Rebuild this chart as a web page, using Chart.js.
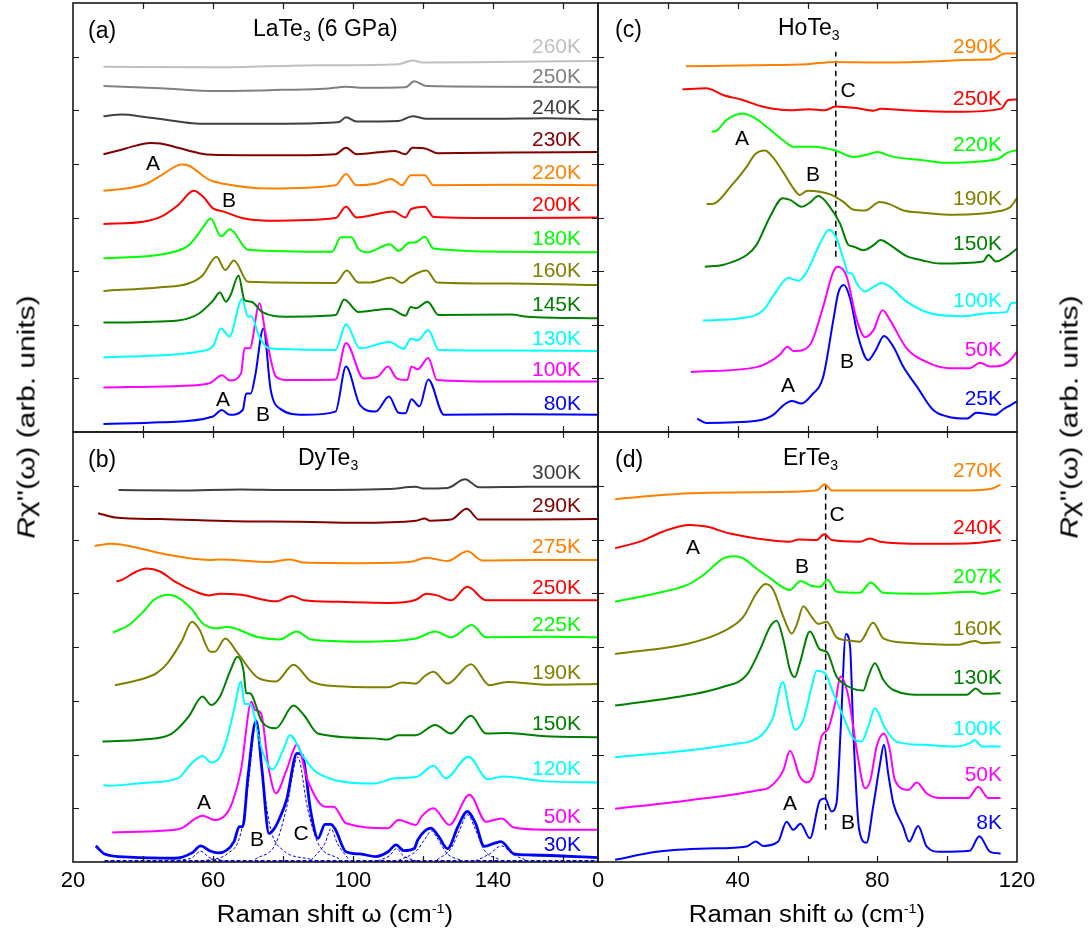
<!DOCTYPE html>
<html>
<head>
<meta charset="utf-8">
<script src="https://cdn.jsdelivr.net/npm/chart.js@4.4.1/dist/chart.umd.min.js"></script>
<style>
  body { margin: 0; background: #fff; }
  #wrap { position: relative; width: 1088px; height: 940px; font-family: "Liberation Sans", Arial, sans-serif; color: #000; overflow: hidden; }
  #wrap canvas { position: absolute; left: 0; top: 0; }
  .t { position: absolute; white-space: nowrap; line-height: 1; }
  .lbl { font-size: 21px; transform: translateY(-50%); }
  .ann { font-size: 21px; transform: translate(-50%, -50%); }
  .ttl { font-size: 23px; transform: translateY(-50%); }
  .ttl sub { font-size: 14px; vertical-align: -5px; }
  .axt { font-size: 23px; transform: translate(-50%, -50%) scaleX(1.12); }
  .axt sup { font-size: 13px; vertical-align: 9px; }
  .yt { font-size: 23px; transform: translate(-50%, -50%) rotate(-90deg) scaleX(1.3); }
</style>
</head>
<body>
<div id="wrap">
  <canvas id="pa" width="1088" height="940"></canvas>
  <canvas id="pb" width="1088" height="940"></canvas>
  <canvas id="pc" width="1088" height="940"></canvas>
  <canvas id="pd" width="1088" height="940"></canvas>
</div>
<script>
// ---------- tick values ----------
const xTicksLeft   = [40, 60, 80, 100, 120, 140, 160];
const xLabelsLeft  = [20, 60, 100, 140];
const xTicksRight  = [20, 40, 60, 80, 100];
const xLabelsRight = [0, 40, 80, 120];
const yTicks       = [1, 2, 3, 4, 5, 6, 7];

// ---------- (a) LaTe3 (6 GPa) ----------
const tempsA = ["260K", "250K", "240K", "230K", "220K", "200K", "180K", "160K", "145K", "130K", "100K", "80K"];
const la260 = [[28.7,6.81],[60,6.80],[90,6.84],[113,6.86],[117,6.93],[120,6.89],[140,6.90],[170,6.92]];
const la250 = [[28.7,6.45],[45,6.41],[61,6.36],[80,6.38],[92,6.40],[98,6.44],[103,6.42],[115,6.43],[117.5,6.54],[121,6.45],[140,6.44],[170,6.43]];
const la240 = [[28.7,5.89],[34,5.92],[40,5.88],[50,5.79],[56,5.75],[80,5.75],[96,5.78],[98,5.87],[101,5.79],[113,5.80],[117,5.89],[121,5.84],[140,5.84],[155,5.85],[170,5.83]];
const la230 = [[28.7,5.18],[33,5.25],[38,5.34],[42,5.39],[45,5.38],[50,5.30],[56,5.20],[60,5.17],[80,5.16],[95,5.18],[98,5.30],[101,5.18],[112,5.24],[115,5.18],[117,5.30],[121,5.28],[124,5.20],[145,5.21],[170,5.22]];
const la220 = [[28.7,4.50],[36,4.55],[41,4.63],[46,4.82],[51,4.99],[53,4.97],[59,4.70],[63,4.63],[76,4.54],[95,4.60],[98,4.81],[101,4.60],[107,4.64],[111,4.72],[114,4.60],[116.5,4.79],[120.5,4.79],[123,4.60],[145,4.61],[170,4.60]];
const la200 = [[28.7,3.88],[40,3.92],[45,4.01],[50,4.23],[54.5,4.50],[57,4.40],[60,4.17],[63,4.11],[69,3.98],[76,3.94],[95,3.99],[98,4.20],[101,4.00],[111.5,4.11],[115,4.00],[116.5,4.15],[120.5,4.20],[123,4.01],[145,3.99],[170,4.00]];
const la180 = [[28.7,3.24],[46,3.32],[53,3.48],[57,3.80],[59.3,3.98],[62.3,3.65],[64.8,3.78],[70,3.40],[94,3.36],[96.5,3.63],[99.5,3.63],[101.5,3.42],[104,3.35],[110.5,3.50],[113,3.38],[116,3.53],[118,3.54],[120.5,3.64],[123,3.42],[145,3.36],[170,3.35]];
const la160 = [[28.7,2.63],[45,2.70],[53,2.77],[57,2.92],[61,3.27],[63.5,3.02],[66,3.20],[70,2.80],[95,2.78],[98.2,3.01],[101.5,2.79],[105,2.79],[111,2.88],[114,2.78],[116.5,2.90],[121,3.01],[124,2.79],[145,2.77],[170,2.74]];
const la145 = [[28.7,2.04],[50,2.08],[56,2.21],[60,2.45],[62,2.60],[63.7,2.43],[65,2.55],[67.3,2.92],[69,2.46],[71,2.43],[74,2.24],[81,2.15],[95,2.18],[97.5,2.47],[101.5,2.24],[110.5,2.30],[115,2.17],[116.5,2.33],[118,2.31],[121.3,2.43],[124.5,2.18],[145,2.19],[150,2.15],[170,2.12]];
const la130 = [[28.7,1.39],[50,1.45],[56,1.50],[60,1.60],[62.3,1.93],[64.7,1.78],[68.3,2.48],[70,2.15],[71,2.16],[73,1.81],[76,1.56],[95,1.53],[98,2.01],[102,1.56],[110.5,1.68],[114.5,1.55],[116.5,1.74],[118.5,1.71],[121.5,1.90],[124.5,1.53],[145,1.52],[170,1.51]];
const la100 = [[28.7,0.83],[50,0.86],[59,0.91],[62.6,1.06],[64.8,0.96],[68,1.09],[69,1.56],[70.5,1.56],[73.3,2.40],[75,1.84],[78,1.03],[81,0.97],[95,0.98],[98,1.66],[103,1.00],[107,1.03],[110,1.22],[112.5,1.00],[115.5,0.97],[116.7,1.22],[118.5,1.17],[121.5,1.38],[124,0.97],[145,0.94],[170,0.94]];
const la80  = [[28.7,0.15],[45,0.18],[60,0.29],[62.5,0.41],[64.8,0.32],[68.5,0.41],[69.5,0.72],[70.8,0.72],[72,1.03],[74.4,1.93],[76.5,0.78],[79,0.44],[86,0.32],[95,0.38],[98,1.22],[102,0.50],[106.5,0.38],[110.3,0.66],[113,0.36],[115,0.35],[116.7,0.61],[119,0.48],[121.5,0.98],[126,0.32],[145,0.33],[170,0.32]];
const seriesA = [la260, la250, la240, la230, la220, la200, la180, la160, la145, la130, la100, la80];

// ---------- (b) DyTe3 ----------
const tempsB = ["300K", "290K", "275K", "250K", "225K", "190K", "150K", "120K", "50K", "30K"];
const dy300 = [[33,6.92],[50,6.91],[68,6.93],[80,6.92],[110,6.94],[118,6.98],[120,6.95],[127,6.96],[132,7.12],[136,6.97],[150,6.98],[170,6.98]];
const dy290 = [[27.2,6.49],[32,6.41],[45,6.38],[66,6.34],[85,6.33],[101,6.31],[118,6.35],[120.5,6.39],[122,6.35],[128,6.37],[132.5,6.57],[136,6.37],[150,6.37],[170,6.38]];
const dy275 = [[26.2,5.88],[31,5.92],[36,5.88],[46,5.73],[59,5.62],[62,5.63],[76,5.58],[82,5.63],[86,5.57],[101,5.56],[116,5.58],[121,5.66],[127,5.60],[132.7,5.78],[137,5.61],[150,5.62],[170,5.62]];
const dy250 = [[32.4,5.22],[34,5.25],[38,5.40],[41,5.46],[45,5.40],[49,5.22],[55,5.03],[59,4.96],[62,4.99],[68,4.97],[78,4.85],[82.5,4.95],[86,4.87],[96,4.84],[110,4.82],[118,4.88],[121,4.99],[124,4.96],[128,4.87],[132.7,5.12],[138,4.87],[155,4.87],[170,4.87]];
const dy225 = [[31.4,4.27],[36,4.41],[40,4.65],[43,4.87],[47.5,4.97],[50,4.92],[54,4.70],[57,4.44],[60.5,4.35],[64,4.37],[73,4.18],[79,4.14],[84,4.29],[88,4.14],[102,4.10],[118,4.16],[123.5,4.29],[128,4.18],[134,4.41],[138,4.18],[155,4.19],[170,4.18]];
const dy190 = [[32,3.29],[39,3.39],[44,3.52],[47,3.70],[51,4.10],[54,4.47],[56,4.34],[59.3,3.91],[60.5,3.91],[63.5,4.16],[67,3.89],[73,3.42],[78,3.36],[83,3.67],[88,3.36],[96,3.27],[110,3.25],[114,3.34],[118,3.32],[120.5,3.46],[123,3.54],[127,3.32],[133.7,3.68],[139,3.29],[144,3.35],[155,3.30],[170,3.31]];
const dy150 = [[28.4,2.24],[40,2.28],[48,2.38],[53,2.70],[57,3.08],[59.5,2.92],[62,3.08],[65,3.57],[67,3.82],[68.7,3.57],[69.5,3.14],[70.5,3.14],[74,2.61],[78,2.49],[83,2.91],[86,2.73],[90,2.39],[106,2.30],[110,2.28],[113,2.36],[118,2.36],[123.5,2.55],[128,2.39],[133.7,2.72],[138,2.39],[144,2.40],[155,2.34],[170,2.32]];
const dy120 = [[28.7,1.43],[30,1.42],[40,1.47],[50,1.56],[54,1.84],[57,1.97],[59.5,1.85],[62,1.96],[64,2.30],[66,2.83],[68,3.36],[69,2.94],[70.5,2.94],[74,2.08],[77,1.72],[80,2.08],[82,2.36],[86,1.94],[90,1.65],[106,1.46],[112,1.56],[118,1.58],[123,1.79],[126.5,1.56],[133,1.96],[138.5,1.54],[143,1.59],[155,1.50],[170,1.48]];
const dy50  = [[31.2,0.55],[45,0.58],[51,0.63],[55,0.81],[57,0.86],[60.5,0.78],[64,0.91],[66,1.20],[68,1.71],[71,2.98],[72,2.83],[73.7,2.77],[76,1.71],[78,1.28],[81,1.71],[84,2.18],[87,1.53],[92,1.03],[94.5,1.03],[98,0.72],[110,0.63],[113,0.78],[118,0.69],[119.5,0.84],[123,1.00],[127.5,0.69],[133.3,1.25],[138,0.75],[142.5,0.81],[146,0.64],[155,0.60],[170,0.60]];
const dy30  = [[26.5,0.30],[29,0.15],[36,0.09],[49,0.07],[54,0.17],[56.5,0.30],[59,0.21],[61.5,0.17],[66,0.38],[67.5,0.66],[68.5,0.66],[70,1.59],[72.3,2.63],[74,1.71],[76,0.53],[77.5,0.62],[79,0.81],[81,1.15],[84,2.02],[85.5,1.99],[88,0.91],[90,0.44],[92,0.70],[93.7,0.70],[95,0.60],[98,0.19],[102,0.15],[106.5,0.10],[110,0.19],[112.3,0.32],[114.5,0.21],[117.5,0.25],[118.5,0.41],[122.3,0.63],[124.5,0.47],[127,0.25],[130,0.66],[132.6,0.94],[135,0.72],[137.5,0.29],[140.5,0.35],[142.3,0.38],[146,0.15],[151,0.13],[170,0.08]];
const seriesB = [dy300, dy290, dy275, dy250, dy225, dy190, dy150, dy120, dy50, dy30];
// 30K fit components (dashed) and fit baseline
const fitA   = [[50,0.03],[54,0.08],[56.5,0.20],[59,0.08],[63,0.03]];
const fitB   = [[58,0.03],[64,0.15],[68,0.55],[70,1.4],[72.3,2.6],[74.5,1.4],[76.5,0.6],[80,0.22],[88,0.05]];
const fitC   = [[72,0.05],[78,0.35],[81,1.0],[84.2,1.95],[87,1.0],[90,0.35],[96,0.06]];
const fit94  = [[88,0.03],[92,0.35],[93.7,0.62],[95.5,0.35],[99,0.03]];
const fit112 = [[107,0.02],[110.5,0.12],[112.4,0.25],[114.3,0.12],[118,0.02]];
const fit122 = [[113,0.03],[118,0.2],[120.5,0.42],[122.4,0.58],[124.3,0.42],[127,0.15],[131,0.03]];
const fit133 = [[124,0.04],[128,0.25],[130.5,0.6],[132.7,0.88],[135,0.6],[137.5,0.22],[142,0.04]];
const fit142 = [[135,0.02],[139,0.15],[142.4,0.30],[145.5,0.15],[150,0.02]];
const fitBase = [[29,0.02],[170,0.02]];
const fitsB = [fitA, fitB, fitC, fit94, fit112, fit122, fit133, fit142];

// ---------- (c) HoTe3 ----------
const tempsC = ["290K", "250K", "220K", "190K", "150K", "100K", "50K", "25K"];
const ho290 = [[25.2,6.82],[45,6.84],[60,6.86],[68,6.90],[80,6.89],[95,6.91],[108,6.94],[113,6.95],[116.5,7.06],[120,7.06]];
const ho250 = [[24.2,6.39],[31,6.41],[36,6.28],[41,6.20],[47,6.07],[55,6.00],[60.5,6.02],[65,6.00],[68,6.07],[74,6.04],[79,5.99],[81,6.03],[88,6.00],[103,5.97],[115.5,6.03],[117.5,6.19],[120,6.20]];
const ho220 = [[32.6,5.60],[34,5.62],[36.8,5.82],[41.5,5.94],[44.5,5.87],[48.3,5.69],[53,5.44],[56,5.32],[61.7,5.32],[68,5.25],[73,5.13],[77,5.17],[80,5.22],[84,5.14],[93,5.07],[100,5.02],[114.5,5.09],[117,5.20],[120,5.26]];
const ho190 = [[31.1,4.25],[32.5,4.25],[38.8,4.64],[42.6,4.95],[45,5.18],[47.8,5.25],[50,5.13],[53,4.85],[56,4.54],[57.8,4.42],[60,4.50],[63.5,4.48],[66.5,4.43],[70.3,4.29],[73,4.15],[76.5,4.13],[80.7,4.29],[83.5,4.25],[87.5,4.13],[93,4.09],[102,4.05],[115,4.12],[118,4.19],[120,4.36]];
const ho150 = [[30.6,3.08],[36,3.12],[42.6,3.30],[45.4,3.49],[49.3,4.02],[52.9,4.36],[55,4.33],[58.3,4.20],[60.7,4.28],[63.1,4.40],[66.4,4.20],[69.3,3.89],[71.7,3.49],[73.1,3.46],[76,3.39],[79,3.49],[80.9,3.58],[83.6,3.49],[88.4,3.28],[93,3.20],[98,3.14],[110.3,3.18],[111.8,3.30],[114,3.18],[117,3.27],[120,3.42]];
const ho100 = [[30,2.08],[40.7,2.12],[47.3,2.27],[50.7,2.59],[54.5,2.87],[57.4,2.82],[59.8,2.99],[63.6,3.52],[66.2,3.77],[68.3,3.61],[70.7,3.14],[71.6,2.96],[72.6,2.96],[74.1,2.77],[76.5,2.62],[79,2.71],[81.2,2.78],[83.6,2.71],[88.4,2.43],[96,2.20],[104.6,2.16],[112.3,2.22],[117,2.24],[118.5,2.41],[120,2.41]];
const ho50  = [[26.6,1.12],[45.4,1.21],[48.3,1.28],[52.1,1.44],[54.2,1.59],[56,1.51],[58.8,1.53],[61.2,1.68],[64.5,2.34],[67.4,2.99],[68.8,3.08],[71.2,2.90],[74.1,2.09],[76.5,1.77],[78.9,1.90],[81.5,2.27],[83.6,2.09],[88.4,1.56],[95,1.28],[100.8,1.19],[106.5,1.19],[109.4,1.29],[112.3,1.22],[116,1.25],[118.5,1.37],[120,1.50]];
const ho25  = [[28.4,0.25],[31,0.17],[45.4,0.21],[50.2,0.32],[53.1,0.50],[55.5,0.58],[58.3,0.53],[61.2,0.69],[64.5,1.03],[67.4,2.09],[68.8,2.59],[70.4,2.74],[72.2,2.49],[74.5,1.78],[77.4,1.34],[79.5,1.52],[81.9,1.79],[84.6,1.59],[87.4,1.22],[91.3,0.85],[96,0.41],[100,0.29],[105.6,0.25],[108.4,0.36],[113.7,0.32],[116,0.42],[120,0.57]];
const seriesC = [ho290, ho250, ho220, ho190, ho150, ho100, ho50, ho25];
const markC = [[68.1,3.27],[68.1,7.09]];

// ---------- (d) ErTe3 ----------
const tempsD = ["270K", "240K", "207K", "160K", "130K", "100K", "50K", "8K"];
const er270 = [[4.9,6.75],[15,6.81],[26.3,6.86],[45,6.88],[62.6,6.91],[65,7.03],[67,6.91],[84,6.91],[103,6.91],[112.3,6.94],[115.3,7.02]];
const er240 = [[4.9,5.84],[12,5.96],[18.7,6.15],[26.3,6.27],[31,6.24],[37.8,6.11],[45.4,6.02],[55,5.96],[57.4,6.00],[62.6,5.99],[64.8,6.10],[67,5.99],[75,5.96],[77.9,6.02],[80.8,5.96],[93.2,5.92],[107,5.93],[115.3,5.99]];
const er207 = [[4.9,4.84],[16.8,5.00],[25.4,5.15],[30.2,5.34],[35.9,5.65],[38.8,5.69],[41.6,5.65],[45.4,5.46],[49.3,5.28],[55,5.06],[58,5.23],[61,5.14],[63.6,5.12],[65.7,5.25],[68.3,5.03],[75,5.01],[78.1,5.20],[81.7,5.01],[93.2,4.99],[107.5,5.03],[110,4.99],[115.3,5.06]];
const er160 = [[4.9,3.87],[26.3,4.07],[35.9,4.29],[41.6,4.56],[45.4,5.00],[48,5.17],[50.2,5.06],[53.1,4.56],[55.5,4.25],[57,4.43],[58.8,4.76],[61.2,4.56],[63.1,4.43],[65.5,4.47],[68.3,4.18],[72.2,4.12],[75,4.10],[78.8,4.45],[81.7,4.16],[88.4,4.08],[102.7,4.04],[108,4.11],[110,4.07],[115.3,4.09]];
const er130 = [[4.9,2.91],[26.3,3.11],[35.9,3.26],[42.6,3.48],[46.4,3.95],[49.3,4.38],[51.2,4.49],[53.1,4.13],[55,3.57],[56.4,3.44],[57.8,3.70],[60.7,4.29],[63.6,3.95],[65.5,3.91],[68.3,3.45],[70.2,3.32],[76,3.19],[77.4,3.45],[79.3,3.70],[81.7,3.39],[84.6,3.20],[93.2,3.11],[105.6,3.11],[108.2,3.23],[110.3,3.13],[115.3,3.14]];
const er100 = [[4.9,1.95],[26.3,2.08],[40.7,2.21],[43.5,2.24],[47.3,2.39],[50.2,2.70],[52.9,3.35],[55,2.76],[56.4,2.46],[58.8,2.65],[61.2,3.26],[62.6,3.56],[65,3.51],[67.4,3.14],[70.3,2.70],[73.1,2.30],[75.5,2.24],[77.4,2.52],[79.3,2.86],[82.2,2.49],[85.5,2.24],[93.2,2.18],[102.7,2.15],[106.5,2.21],[107.8,2.27],[110,2.15],[115.3,2.15]];
const er50  = [[4.9,0.99],[26.3,1.15],[45.4,1.33],[49.3,1.40],[53.1,1.71],[55,2.07],[57.8,1.59],[59.8,1.48],[61.7,1.62],[64,2.33],[66,2.49],[67.9,2.95],[69.5,3.45],[71.7,3.08],[74.1,2.08],[76.5,1.37],[78,1.52],[79.8,2.15],[81.9,2.39],[83.6,2.08],[85,1.53],[88.9,1.34],[91.3,1.48],[94.1,1.28],[97.9,1.19],[106,1.19],[108.9,1.40],[111.8,1.19],[115.3,1.19]];
const er8   = [[4.9,0.04],[16.8,0.19],[31.1,0.25],[42.6,0.29],[45.2,0.38],[47.3,0.30],[51.6,0.38],[54,0.75],[55.9,0.60],[58,0.71],[60.7,0.44],[63.6,1.15],[65,1.18],[66.9,0.94],[68.3,1.09],[69.5,2.46],[71,4.24],[72.2,4.00],[73.1,2.46],[74.8,0.60],[76.9,0.36],[78.8,1.03],[80.8,1.84],[81.9,2.18],[83.1,1.65],[84.6,1.09],[87.4,0.66],[89.1,0.38],[91.7,0.67],[94.1,0.29],[97.9,0.19],[106.5,0.21],[109.2,0.48],[112.3,0.19],[115.3,0.16]];
const seriesD = [er270, er240, er207, er160, er130, er100, er50, er8];
const markD = [[65.2,0.60],[65.2,7.01]];

// ---------- styles ----------
const colorsA = ["#c0c0c0", "#808080", "#404040", "#800000", "#ff8000", "#ff0000", "#00ff00", "#808000", "#008000", "#00ffff", "#ff00ff", "#0000ff"];
const colorsB = ["#404040", "#800000", "#ff8000", "#ff0000", "#00ff00", "#808000", "#008000", "#00ffff", "#ff00ff", "#0000ff"];
const colorsC = ["#ff8000", "#ff0000", "#00ff00", "#808000", "#008000", "#00ffff", "#ff00ff", "#0000ff"];
const colorsD = ["#ff8000", "#ff0000", "#00ff00", "#808000", "#008000", "#00ffff", "#ff00ff", "#0000ff"];

const FONT = '"Liberation Sans", Arial, sans-serif';

// frame, inward ticks and bottom tick labels
const framePlugin = {
  id: "frame",
  afterDraw(chart, args, opts) {
    const { ctx, chartArea: a, scales: { x, y } } = chart;
    const len = 6;
    ctx.save();
    ctx.strokeStyle = "#1a1a1a";
    ctx.lineWidth = 1.2;
    ctx.beginPath();
    opts.xTicks.forEach((v) => {
      const px = Math.round(x.getPixelForValue(v)) + 0.5;
      ctx.moveTo(px, a.top); ctx.lineTo(px, a.top + len);
      ctx.moveTo(px, a.bottom); ctx.lineTo(px, a.bottom - len);
    });
    yTicks.forEach((v) => {
      const py = Math.round(y.getPixelForValue(v)) + 0.5;
      ctx.moveTo(a.left, py); ctx.lineTo(a.left + len, py);
      ctx.moveTo(a.right, py); ctx.lineTo(a.right - len, py);
    });
    ctx.stroke();
    ctx.lineWidth = 1.6;
    ctx.strokeRect(a.left, a.top, a.right - a.left, a.bottom - a.top);
    if (opts.xLabels) {
      ctx.fillStyle = "#000";
      ctx.font = `22px ${FONT}`;
      ctx.textAlign = "center";
      ctx.textBaseline = "middle";
      opts.xLabels.forEach((v) => ctx.fillText(String(v), x.getPixelForValue(v), a.bottom + 19));
    }
    ctx.restore();
  },
};

function curveSets(series, colors, widths) {
  return series.map((d, i) => ({
    data: d,
    borderColor: colors[i],
    borderWidth: widths ? widths[i] : 2,
    pointRadius: 0,
    fill: false,
    cubicInterpolationMode: "monotone",
  }));
}

function dashedSets(list, color, width, dash) {
  return list.map((d) => ({
    data: d,
    borderColor: color,
    borderWidth: width,
    borderDash: dash,
    pointRadius: 0,
    fill: false,
    cubicInterpolationMode: "monotone",
  }));
}

function makePanel(id, padding, xMin, xMax, datasets, frameOpts) {
  return new Chart(document.getElementById(id), {
    type: "line",
    data: { datasets },
    options: {
      responsive: false,
      animation: false,
      events: [],
      layout: { padding },
      plugins: { legend: { display: false }, tooltip: { enabled: false }, frame: frameOpts },
      scales: {
        x: { type: "linear", min: xMin, max: xMax, display: false },
        y: { type: "linear", min: 0, max: 8, display: false },
      },
    },
    plugins: [framePlugin],
  });
}

const widthsB = colorsB.map((c, i) => (i === colorsB.length - 1 ? 2.8 : 2));

makePanel("pa", { left: 73, top: 3, right: 490, bottom: 508 }, 20, 170,
  curveSets(seriesA, colorsA), { xTicks: xTicksLeft });

makePanel("pb", { left: 73, top: 432, right: 490, bottom: 78 }, 20, 170,
  [...dashedSets(fitsB, "#0000ff", 1, [3, 2]),
   ...dashedSets([fitBase], "#0000ff", 2, [4, 2]),
   ...curveSets(seriesB, colorsB, widthsB)],
  { xTicks: xTicksLeft, xLabels: xLabelsLeft });

makePanel("pc", { left: 598, top: 3, right: 71, bottom: 508 }, 0, 120,
  [...curveSets(seriesC, colorsC), ...dashedSets([markC], "#000", 1.5, [6, 4])],
  { xTicks: xTicksRight });

makePanel("pd", { left: 598, top: 432, right: 71, bottom: 78 }, 0, 120,
  [...curveSets(seriesD, colorsD), ...dashedSets([markD], "#000", 1.5, [6, 4])],
  { xTicks: xTicksRight, xLabels: xLabelsRight });

// ---------- text ----------
const wrap = document.getElementById("wrap");
function addText(cls, html, style) {
  const el = document.createElement("div");
  el.className = "t " + cls;
  el.innerHTML = html;
  Object.assign(el.style, style);
  wrap.appendChild(el);
}

const labelYA = [45, 75, 106, 138, 171, 203, 237, 269, 303, 337, 368, 402];
const labelYB = [471, 504, 545, 586, 623, 671, 722, 767, 815, 843];
const labelYC = [45, 97, 143, 197, 242, 299, 348, 397];
const labelYD = [469, 526, 575, 627, 676, 727, 773, 821];
function addLabels(temps, colors, ys, right) {
  temps.forEach((t, i) => addText("lbl", t, { right: right + "px", top: ys[i] + "px", color: colors[i] }));
}
addLabels(tempsA, colorsA, labelYA, 507);
addLabels(tempsB, colorsB, labelYB, 507);
addLabels(tempsC, colorsC, labelYC, 86);
addLabels(tempsD, colorsD, labelYD, 86);

addText("ttl", "(a)", { left: "88px", top: "30px" });
addText("ttl", "LaTe<sub>3</sub> (6 GPa)", { left: "253px", top: "30px" });
addText("ttl", "(b)", { left: "88px", top: "459px" });
addText("ttl", "DyTe<sub>3</sub>", { left: "298px", top: "459px" });
addText("ttl", "(c)", { left: "615px", top: "29px" });
addText("ttl", "HoTe<sub>3</sub>", { left: "778px", top: "29px" });
addText("ttl", "(d)", { left: "615px", top: "459px" });
addText("ttl", "ErTe<sub>3</sub>", { left: "783px", top: "459px" });

const notes = [
  ["A", 153, 162], ["B", 229, 199], ["A", 223, 398], ["B", 263, 413],
  ["A", 204, 801], ["B", 257, 838], ["C", 301, 832],
  ["C", 848, 89], ["A", 742, 137], ["B", 813, 173], ["B", 847, 360], ["A", 788, 384],
  ["C", 837, 513], ["A", 693, 546], ["B", 802, 565], ["A", 790, 802], ["B", 848, 821],
];
notes.forEach(([s, x, y]) => addText("ann", s, { left: x + "px", top: y + "px" }));

addText("axt", "Raman shift ω (cm<sup>-1</sup>)", { left: "335px", top: "914px" });
addText("axt", "Raman shift ω (cm<sup>-1</sup>)", { left: "807px", top: "914px" });
addText("yt", "<i>R</i>χ''(ω) (arb. units)", { left: "27px", top: "417px" });
addText("yt", "<i>R</i>χ''(ω) (arb. units)", { left: "1070px", top: "417px" });
</script>
</body>
</html>
